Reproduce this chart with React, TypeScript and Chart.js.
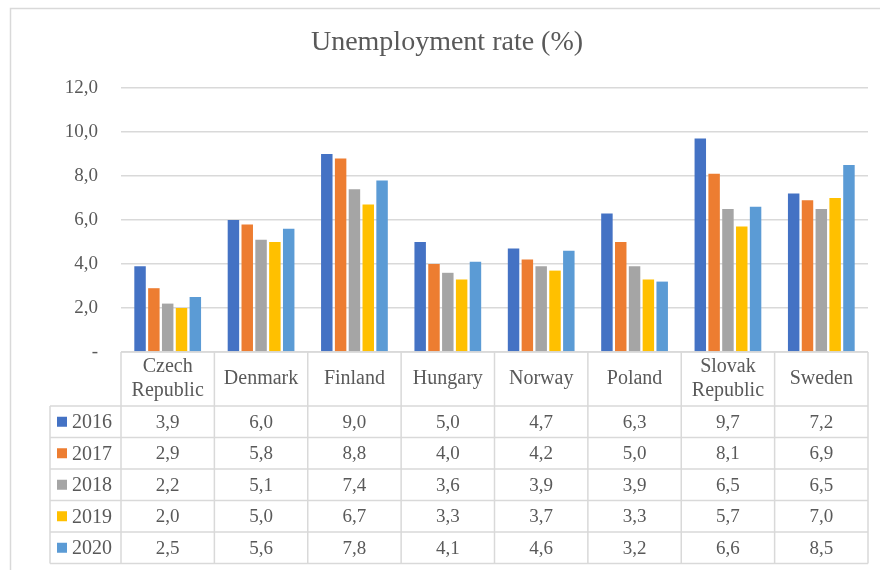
import React, { useEffect, useRef } from "react";
import { Chart, registerables } from "chart.js";

Chart.register(...registerables);

const categories: string[][] = [
  ["Czech", "Republic"],
  ["Denmark"],
  ["Finland"],
  ["Hungary"],
  ["Norway"],
  ["Poland"],
  ["Slovak", "Republic"],
  ["Sweden"],
];
const years = ["2016", "2017", "2018", "2019", "2020"];
const v2016 = [3.9, 6.0, 9.0, 5.0, 4.7, 6.3, 9.7, 7.2];
const v2017 = [2.9, 5.8, 8.8, 4.0, 4.2, 5.0, 8.1, 6.9];
const v2018 = [2.2, 5.1, 7.4, 3.6, 3.9, 3.9, 6.5, 6.5];
const v2019 = [2.0, 5.0, 6.7, 3.3, 3.7, 3.3, 5.7, 7.0];
const v2020 = [2.5, 5.6, 7.8, 4.1, 4.6, 3.2, 6.6, 8.5];
const seriesValues = [v2016, v2017, v2018, v2019, v2020];
const colors = ["#4472C4", "#ED7D31", "#A5A5A5", "#FFC000", "#5B9BD5"];
const title = "Unemployment rate (%)";

const FONT = "'Liberation Serif', 'Times New Roman', serif";
const TEXT = "#595959";
const LINE = "#d9d9d9";

const fmt = (v: number) => v.toFixed(1).replace(".", ",");

const tablePlugin = {
  id: "tablePlugin",
  afterDraw(chart: any) {
    const ctx = chart.ctx as CanvasRenderingContext2D;
    const area = chart.chartArea;
    const x = chart.scales.x;
    const n = categories.length;
    const colW = (area.right - area.left) / n;
    const headTop = area.bottom;
    const headBottom = headTop + 54;
    const rowH = 31.5;
    const labelLeft = 50;
    const tableBottom = headBottom + rowH * years.length;

    ctx.save();
    // outer border
    ctx.strokeStyle = LINE;
    ctx.lineWidth = 1.5;
    ctx.strokeRect(10.5, 8.5, 900, 600);

    // title
    ctx.fillStyle = TEXT;
    ctx.font = `28px ${FONT}`;
    ctx.textAlign = "center";
    ctx.textBaseline = "middle";
    ctx.fillText(title, 447, 43);

    // table lines
    ctx.strokeStyle = LINE;
    ctx.lineWidth = 1.5;
    ctx.beginPath();
    // header top
    ctx.moveTo(area.left, headTop);
    ctx.lineTo(area.right, headTop);
    // row lines
    for (let r = 0; r <= years.length; r++) {
      const y = headBottom + r * rowH;
      ctx.moveTo(labelLeft, y);
      ctx.lineTo(area.right, y);
    }
    // vertical lines
    for (let c = 0; c <= n; c++) {
      const xx = area.left + c * colW;
      ctx.moveTo(xx, headTop);
      ctx.lineTo(xx, tableBottom);
    }
    ctx.moveTo(labelLeft, headBottom);
    ctx.lineTo(labelLeft, tableBottom);
    ctx.stroke();

    // header text
    ctx.fillStyle = TEXT;
    ctx.font = `20px ${FONT}`;
    ctx.textAlign = "center";
    ctx.textBaseline = "middle";
    const headMid = (headTop + headBottom) / 2;
    categories.forEach((lines, i) => {
      const cx = x.getPixelForValue(i);
      const lh = 24;
      lines.forEach((ln, j) => {
        const y = headMid + (j - (lines.length - 1) / 2) * lh;
        ctx.fillText(ln, cx, y);
      });
    });

    // rows
    years.forEach((yr, r) => {
      const mid = headBottom + r * rowH + rowH / 2;
      ctx.fillStyle = colors[r];
      ctx.fillRect(57, mid - 5, 10, 10);
      ctx.fillStyle = TEXT;
      ctx.font = `20px ${FONT}`;
      ctx.textAlign = "left";
      ctx.fillText(yr, 72, mid + 1);
      ctx.textAlign = "center";
      ctx.font = `19px ${FONT}`;
      seriesValues[r].forEach((v, i) => {
        ctx.fillText(fmt(v), x.getPixelForValue(i), mid + 1);
      });
    });
    ctx.restore();
  },
};

export default function App() {
  const ref = useRef<HTMLCanvasElement | null>(null);
  useEffect(() => {
    if (!ref.current) return;
    const chart = new Chart(ref.current, {
      type: "bar",
      data: {
        labels: categories.map((c) => c.join(" ")),
        datasets: years.map((yr, i) => ({
          label: yr,
          data: seriesValues[i],
          backgroundColor: colors[i],
          borderWidth: 0,
          categoryPercentage: 0.74,
          barPercentage: 0.83,
        })),
      },
      options: {
        animation: false,
        responsive: false,
        maintainAspectRatio: false,
        layout: { padding: { top: 88, right: 12, bottom: 218, left: 10 } },
        plugins: {
          legend: { display: false },
          title: { display: false },
          tooltip: { enabled: false },
        },
        scales: {
          x: {
            display: true,
            grid: { display: false, drawTicks: false },
            border: { display: false },
            ticks: { display: false },
          },
          y: {
            min: 0,
            max: 12,
            afterFit: (s: any) => {
              s.width = 111;
            },
            ticks: {
              stepSize: 2,
              padding: 23,
              color: TEXT,
              font: { family: FONT, size: 19 },
              callback: (v: any) => (Number(v) === 0 ? "-" : fmt(Number(v))),
            },
            grid: { color: LINE, lineWidth: 1.5, drawTicks: false },
            border: { display: false },
          },
        },
      },
      plugins: [tablePlugin],
    });
    return () => chart.destroy();
  }, []);
  return (
    <div style={{ position: "fixed", left: 0, top: 0, width: 880, height: 570, background: "#fff" }}>
      <canvas ref={ref} width={880} height={570} />
    </div>
  );
}
